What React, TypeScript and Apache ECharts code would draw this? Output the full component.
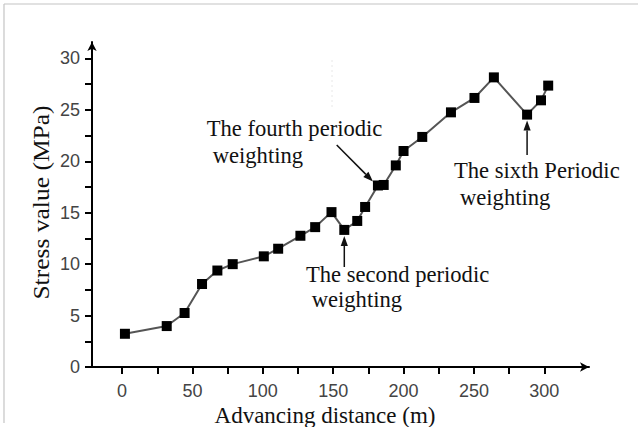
import React, { useEffect, useRef } from 'react';
import * as echarts from 'echarts';

// Advancing distance (m) of each measuring point
const distance = [2.0, 31.7, 44.4, 56.8, 67.7, 78.6, 100.7, 110.9, 126.7, 137.2, 148.8, 157.9, 167.1, 172.7, 181.8, 185.9, 194.5, 200.0, 213.3, 233.7, 250.4, 264.2, 287.8, 297.7, 302.8];
// Stress value (MPa)
const stress = [3.23, 3.98, 5.25, 8.07, 9.38, 10.0, 10.76, 11.5, 12.76, 13.6, 15.06, 13.33, 14.2, 15.56, 17.65, 17.7, 19.6, 21.0, 22.37, 24.76, 26.16, 28.16, 24.54, 25.93, 27.36];

const xTickValues = [0, 25, 50, 75, 100, 125, 150, 175, 200, 225, 250, 275, 300];
const xLabelValues = [0, 50, 100, 150, 200, 250, 300];
const yTickValues = [0, 2.5, 5, 7.5, 10, 12.5, 15, 17.5, 20, 22.5, 25, 27.5, 30];
const yLabelValues = [0, 5, 10, 15, 20, 25, 30];

const xTitle = 'Advancing distance (m)';
const yTitle = 'Stress value (MPa)';

const fourthLabel = ['The fourth periodic', 'weighting'];
const secondLabel = ['The second periodic', 'weighting'];
const sixthLabel = ['The sixth Periodic', 'weighting'];
const fourthIndex = 14;
const secondIndex = 11;
const sixthIndex = 22;

const SERIF = '"Liberation Serif", "Times New Roman", "DejaVu Serif", serif';
const SANS = '"Liberation Sans", Arial, "DejaVu Sans", sans-serif';

function arrow(x1: number, y1: number, x2: number, y2: number) {
  const dx = x2 - x1;
  const dy = y2 - y1;
  const len = Math.sqrt(dx * dx + dy * dy);
  const ux = dx / len;
  const uy = dy / len;
  const hl = 10;
  const hw = 3.6;
  const bx = x2 - ux * hl;
  const by = y2 - uy * hl;
  return [
    {
      type: 'line',
      shape: { x1, y1, x2: bx, y2: by },
      style: { stroke: '#111', lineWidth: 1.5 },
      z: 10,
    },
    {
      type: 'polygon',
      shape: {
        points: [
          [x2, y2],
          [bx - uy * hw, by + ux * hw],
          [bx + uy * hw, by - ux * hw],
        ],
      },
      style: { fill: '#111' },
      z: 10,
    },
  ];
}

function txt(s: string, x: number, y: number) {
  return {
    type: 'text',
    x,
    y,
    style: {
      text: s,
      font: `22.6px ${SERIF}`,
      fill: '#111',
      align: 'left',
      verticalAlign: 'middle',
    },
    z: 10,
  };
}

export default function App() {
  const ref = useRef<HTMLDivElement>(null);

  useEffect(() => {
    if (!ref.current) return;
    const chart = echarts.init(ref.current, undefined, { renderer: 'svg' });
    const data = distance.map((d, i) => [d, stress[i]]);
    chart.setOption({
      animation: false,
      backgroundColor: '#ffffff',
      grid: { left: 92, right: 49, top: 42, bottom: 60, containLabel: false },
      xAxis: {
        type: 'value',
        min: -21.4,
        max: 331.8,
        splitLine: { show: false },
        axisLine: {
          show: true,
          onZero: false,
          symbol: ['none', 'arrow'],
          symbolSize: [7, 9],
          lineStyle: { color: '#000', width: 2 },
        },
        axisTick: {
          show: true,
          length: 7,
          customValues: xTickValues,
          lineStyle: { color: '#000', width: 2 },
        },
        axisLabel: {
          customValues: xLabelValues,
          margin: 15,
          color: '#444',
          fontSize: 18,
          fontFamily: SANS,
        },
      },
      yAxis: {
        type: 'value',
        min: 0,
        max: 31.6,
        splitLine: { show: false },
        axisLine: {
          show: true,
          onZero: false,
          symbol: ['none', 'arrow'],
          symbolSize: [7, 9],
          lineStyle: { color: '#000', width: 2 },
        },
        axisTick: {
          show: true,
          length: 7,
          customValues: yTickValues,
          lineStyle: { color: '#000', width: 2 },
        },
        axisLabel: {
          customValues: yLabelValues,
          margin: 12,
          color: '#444',
          fontSize: 18,
          fontFamily: SANS,
        },
      },
      series: [
        {
          type: 'line',
          data,
          symbol: 'rect',
          symbolSize: 10,
          itemStyle: { color: '#000' },
          lineStyle: { color: '#555', width: 2 },
          z: 3,
        },
      ],
    });

    const px = (i: number) => chart.convertToPixel({ seriesIndex: 0 }, [distance[i], stress[i]]) as number[];
    const p4 = px(fourthIndex);
    const p2 = px(secondIndex);
    const p6 = px(sixthIndex);

    const elements: any[] = [
      // image frame
      { type: 'line', shape: { x1: 4, y1: 4, x2: 638, y2: 4 }, style: { stroke: '#c4c4c4', lineWidth: 1.2 } },
      { type: 'line', shape: { x1: 4, y1: 4, x2: 4, y2: 423 }, style: { stroke: '#c4c4c4', lineWidth: 1.2 } },
      // faint scan artefact
      { type: 'line', shape: { x1: 332, y1: 60, x2: 332, y2: 108 }, style: { stroke: '#e8e8e8', lineWidth: 1, lineDash: [2, 3] } },
      // axis titles
      {
        type: 'text',
        x: 325,
        y: 415.8,
        style: { text: xTitle, font: `23px ${SERIF}`, fill: '#111', align: 'center', verticalAlign: 'middle' },
      },
      {
        type: 'text',
        x: 41,
        y: 202.5,
        rotation: Math.PI / 2,
        scaleX: 1.11,
        style: { text: yTitle, font: `23px ${SERIF}`, fill: '#111', align: 'center', verticalAlign: 'middle' },
      },
      // annotations
      txt(fourthLabel[0], 206.7, 128.3),
      txt(fourthLabel[1], 212.7, 155.8),
      txt(secondLabel[0], 306, 274.2),
      txt(secondLabel[1], 311.7, 299.8),
      txt(sixthLabel[0], 454, 170.8),
      txt(sixthLabel[1], 460, 197.5),
      ...arrow(336.7, 145, p4[0] - 5, p4[1] - 4),
      ...arrow(p2[0], 267, p2[0], p2[1] + 6),
      ...arrow(p6[0], 155, p6[0], p6[1] + 6),
    ];
    chart.setOption({ graphic: { elements } });

    return () => chart.dispose();
  }, []);

  return (
    <div
      ref={ref}
      style={{ position: 'fixed', left: 0, top: 0, width: 638, height: 427, background: '#fff' }}
    />
  );
}
